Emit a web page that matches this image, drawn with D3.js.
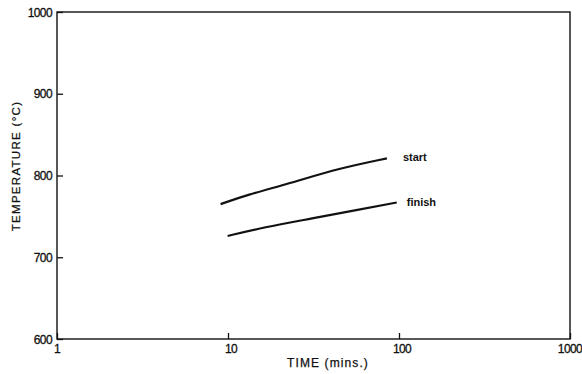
<!DOCTYPE html>
<html>
<head>
<meta charset="utf-8">
<script src="https://cdn.jsdelivr.net/npm/d3@7"></script>
<style>
body{margin:0;background:#fff;}
text{font-family:"Liberation Sans",Arial,sans-serif;fill:#111;}
</style>
</head>
<body>
<svg id="wykres" width="582" height="374"></svg>
<script>
// dane
var czasStart = [9.05, 12.8, 23, 45, 85];
var tempStart = [765, 776, 790.5, 809, 821];
var czasKoniec = [9.95, 16.1, 31.5, 56.6, 97];
var tempKoniec = [726, 736.6, 747.6, 757.8, 767];
var tickiX = [1, 10, 100, 1000];
var tickiY = [600, 700, 800, 900, 1000];
var etykiety = ["start", "finish"];

var svg = d3.select("#wykres");
var lewo = 57, prawo = 570, gora = 12, dol = 339;

var x = d3.scaleLog().domain([1, 1000]).range([lewo, prawo]);
var y = d3.scaleLinear().domain([600, 1000]).range([dol, gora]);

// ramka
svg.append("rect")
	.attr("x", lewo).attr("y", gora)
	.attr("width", prawo - lewo).attr("height", dol - gora)
	.style("fill", "none")
	.style("stroke", "#111")
	.style("stroke-width", "1.4px");

// os Y, ticki do srodka
svg.append("g")
	.attr("transform", "translate(" + lewo + ",0)")
	.call(d3.axisRight(y).tickValues(tickiY).tickSize(6).tickFormat(""))
	.call(g => g.select(".domain").remove())
	.selectAll("line").style("stroke", "#111").style("stroke-width", "1.3px");
svg.selectAll(".etyY")
	.data(tickiY)
	.enter().append("text")
	.attr("x", lewo - 5)
	.attr("y", d => y(d) + 4.5)
	.attr("text-anchor", "end")
	.attr("font-size", 12)
	.attr("letter-spacing", "-0.6")
	.style("stroke", "#111").style("stroke-width", "0.3px")
	.text(d => d);

// os X
svg.append("g")
	.attr("transform", "translate(0," + dol + ")")
	.call(d3.axisTop(x).tickValues(tickiX).tickSize(6).tickFormat(""))
	.call(g => g.select(".domain").remove())
	.selectAll("line").style("stroke", "#111").style("stroke-width", "1.3px");
svg.selectAll(".etyX")
	.data(tickiX)
	.enter().append("text")
	.attr("x", d => x(d) + (d == 10 || d == 100 ? 3 : 0))
	.attr("y", dol + 14)
	.attr("text-anchor", "middle")
	.attr("font-size", 12)
	.attr("letter-spacing", "-0.6")
	.style("stroke", "#111").style("stroke-width", "0.3px")
	.text(d => d);

// tytuly osi
svg.append("text")
	.attr("x", 328).attr("y", 367)
	.attr("text-anchor", "middle")
	.attr("font-size", 12)
	.attr("letter-spacing", "1.1")
	.style("stroke", "#111").style("stroke-width", "0.25px")
	.text("TIME  (mins.)");
svg.append("text")
	.attr("transform", "translate(20,166) rotate(-90)")
	.attr("text-anchor", "middle")
	.attr("font-size", 11.5)
	.attr("letter-spacing", "1.3")
	.style("stroke", "#111").style("stroke-width", "0.25px")
	.text("TEMPERATURE  (°C)");

// krzywe
var linia = d3.line()
	.x(d => x(d[0]))
	.y(d => y(d[1]))
	.curve(d3.curveBasis);
var serie = [d3.zip(czasStart, tempStart), d3.zip(czasKoniec, tempKoniec)];
svg.selectAll(".krzywa")
	.data(serie)
	.enter().append("path")
	.attr("d", linia)
	.style("fill", "none")
	.style("stroke", "#111")
	.style("stroke-width", "2.2px");

// napisy przy krzywych
svg.selectAll(".napis")
	.data(serie)
	.enter().append("text")
	.attr("x", (d, i) => x(d[d.length - 1][0]) + (i == 0 ? 16 : 10))
	.attr("y", (d, i) => y(d[d.length - 1][1]) + (i == 0 ? 3 : 4))
	.attr("font-size", 11)
	.attr("font-weight", "bold")
	.text((d, i) => etykiety[i]);
</script>
</body>
</html>
